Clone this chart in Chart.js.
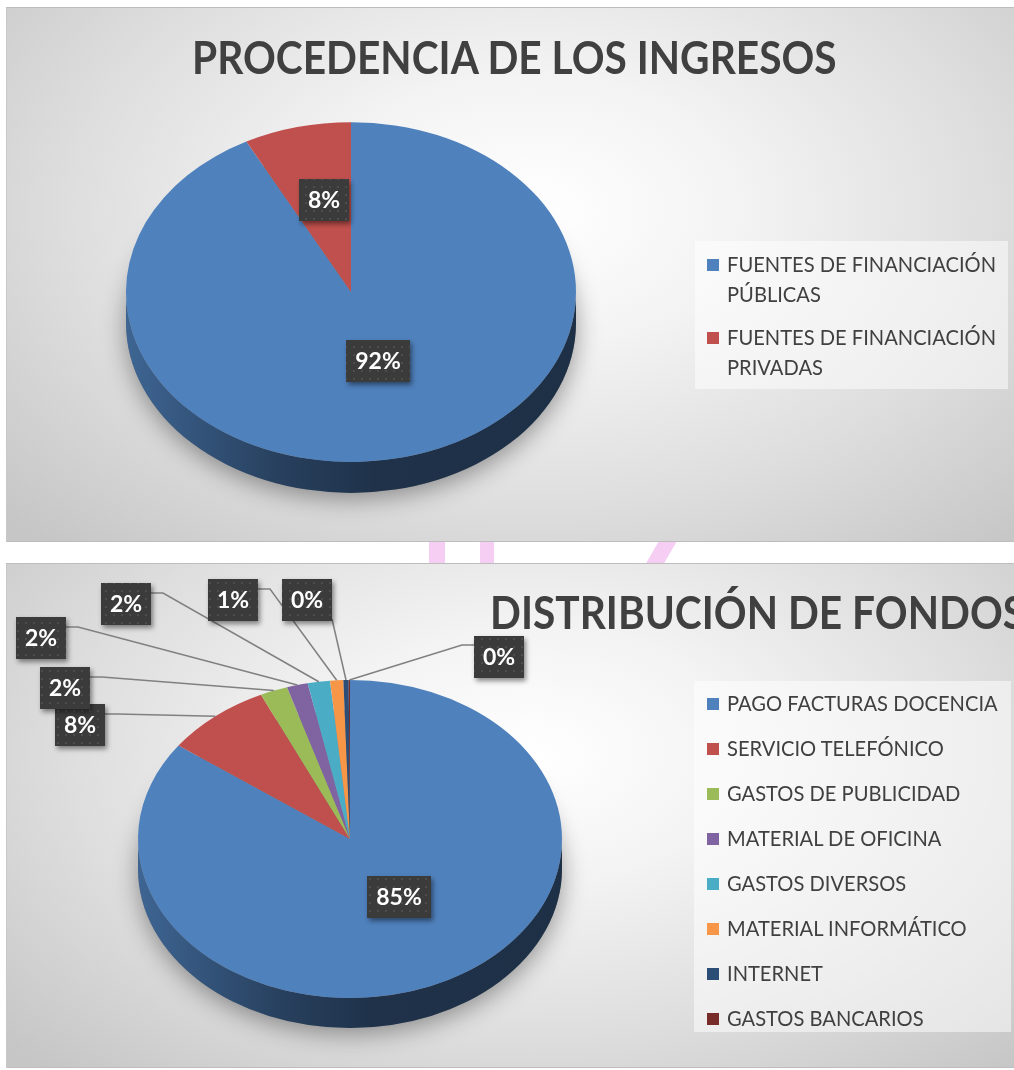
<!DOCTYPE html>
<html>
<head>
<meta charset="utf-8">
<script src="https://cdn.jsdelivr.net/npm/chart.js@4.4.0/dist/chart.umd.min.js"></script>
<style>
  html, body { margin: 0; padding: 0; background: #fff; }
  body { width: 1014px; height: 1070px; overflow: hidden; position: relative; font-family: Lato, "Open Sans", sans-serif; }
  .panel {
    position: absolute; left: 6px; width: 1010px; overflow: hidden;
    background: radial-gradient(ellipse 70% 85% at 52% 38%, #ffffff 0%, #f3f3f3 30%, #dedede 65%, #c6c6c6 100%);
    box-shadow: inset 0 1px 0 #bdbdbd, inset 1px 0 0 #c8c8c8, inset 0 -1px 0 #bdbdbd;
  }
  .panel canvas { position: absolute; left: 0; top: 0; }
  .txt { position: absolute; white-space: nowrap; line-height: 1; color: #404040; transform-origin: 0 0; z-index: 2; font-family: Lato, "Open Sans", sans-serif; }
  .legbox { position: absolute; background: rgba(255,255,255,0.5); z-index: 1; }
  .sq { position: absolute; width: 12px; height: 12px; z-index: 2; }
  .pink { position: absolute; background: #f6cdf3; }
</style>
</head>
<body>
<div class="pink" style="left:429px;top:540px;width:16px;height:26px;"></div>
<div class="pink" style="left:480px;top:540px;width:14px;height:26px;"></div>
<div class="pink" style="left:652px;top:540px;width:18px;height:26px;transform:skewX(-30deg);"></div>

<div class="panel" id="p1" style="top:7px;height:535px;"><canvas id="c1" width="1010" height="535"></canvas></div>
<div class="panel" id="p2" style="top:563px;height:505px;"><canvas id="c2" width="1010" height="505"></canvas></div>

<script>
// ---- data ----
const incomeTitle = 'PROCEDENCIA DE LOS INGRESOS';
const incomeLabels = ['FUENTES DE FINANCIACIÓN PÚBLICAS', 'FUENTES DE FINANCIACIÓN PRIVADAS'];
const incomeValues = [92.3, 7.7];

const fundTitle = 'DISTRIBUCIÓN DE FONDOS';
const fundLabels = ['PAGO FACTURAS DOCENCIA', 'SERVICIO TELEFÓNICO', 'GASTOS DE PUBLICIDAD', 'MATERIAL DE OFICINA',
  'GASTOS DIVERSOS', 'MATERIAL INFORMÁTICO', 'INTERNET', 'GASTOS BANCARIOS'];
const fundValues = [85.0, 8.1, 2.1, 1.6, 1.7, 1.0, 0.4, 0.1];

// ---- styles / layout ----
const palette = ['#4f81bd', '#c0504d', '#9bbb59', '#8064a2', '#4bacc6', '#f79646', '#2c4d75', '#772c2a'];
// callout box centres (panel px) for the labels placed outside the second pie
const fundCallouts = [null, [74, 162], [59, 125], [35, 75], [120, 41], [227, 37], [301, 37], [493, 94]];

const CAP_OFF = 0.17; // cap top offset (em) for line-height 1

function darken(hex, f) {
  const n = parseInt(hex.slice(1), 16);
  const r = (n >> 16) & 255, g = (n >> 8) & 255, b = n & 255;
  return `rgb(${Math.round(r * f)},${Math.round(g * f)},${Math.round(b * f)})`;
}

// dotted dark fill used by the data label boxes
const pc = document.createElement('canvas');
pc.width = pc.height = 8;
const pctx = pc.getContext('2d');
pctx.fillStyle = '#3b3b3b'; pctx.fillRect(0, 0, 8, 8);
pctx.fillStyle = '#4c4c4c'; pctx.fillRect(3, 3, 2, 2);

// squash the pie into an ellipse and add the side wall
const pie3d = {
  id: 'pie3d',
  beforeDatasetsDraw(chart, args, o) {
    const arcs = chart.getDatasetMeta(0).data;
    const { x: cx, y: cy, outerRadius: R } = arcs[0];
    const ry = R * o.tilt, d = o.depth, ctx = chart.ctx;
    const colors = chart.data.datasets[0].backgroundColor;

    ctx.save();
    ctx.shadowColor = 'rgba(0,0,0,0.38)';
    ctx.shadowBlur = 24;
    ctx.shadowOffsetY = 6;
    ctx.fillStyle = '#888';
    ctx.beginPath();
    ctx.ellipse(cx, cy + d, R, ry, 0, 0, Math.PI * 2);
    ctx.fill();
    ctx.restore();

    arcs.forEach((arc, i) => {
      for (const off of [0, Math.PI * 2]) {
        const lo = Math.max(arc.startAngle, off), hi = Math.min(arc.endAngle, off + Math.PI);
        if (hi <= lo) continue;
        const g = ctx.createLinearGradient(cx - R, 0, cx + R, 0);
        g.addColorStop(0, darken(colors[i], 0.78));
        g.addColorStop(0.33, darken(colors[i], 0.5));
        g.addColorStop(0.55, darken(colors[i], 0.39));
        g.addColorStop(1, darken(colors[i], 0.37));
        ctx.beginPath();
        ctx.ellipse(cx, cy, R, ry, 0, lo, hi, false);
        ctx.ellipse(cx, cy + d, R, ry, 0, hi, lo, true);
        ctx.closePath();
        ctx.fillStyle = g;
        ctx.fill();
      }
    });

    ctx.save();
    ctx.translate(cx, cy);
    ctx.scale(1, o.tilt);
    ctx.translate(-cx, -cy);
  },
  afterDatasetsDraw(chart) {
    chart.ctx.restore();
  }
};

// percentage boxes, inside or as callouts with leader lines
const pieLabels = {
  id: 'pieLabels',
  afterDraw(chart, args, o) {
    const arcs = chart.getDatasetMeta(0).data;
    const values = chart.data.datasets[0].data;
    const total = values.reduce((a, b) => a + b, 0);
    const { x: cx, y: cy, outerRadius: R } = arcs[0];
    const k = o.tilt, ctx = chart.ctx;
    const pattern = ctx.createPattern(pc, 'repeat');
    ctx.save();
    ctx.font = 'bold 23px Lato, "Open Sans", sans-serif';
    arcs.forEach((arc, i) => {
      const text = Math.round(values[i] / total * 100) + '%';
      const mid = (arc.startAngle + arc.endAngle) / 2;
      const c = Math.cos(mid), s = Math.sin(mid);
      const w = Math.round(ctx.measureText(text).width + 18), h = 42;
      const place = o.outside ? o.outside[i] : null;
      let bx, by;
      if (place) { bx = place[0]; by = place[1]; }
      else { bx = cx + 0.51 * R * c; by = cy + R * k * (0.488 * s - 0.067); }
      const left = Math.round(bx - w / 2), top = Math.round(by - h / 2);

      if (place) {
        const tx = cx + R * c, ty = cy + R * k * s;
        ctx.strokeStyle = '#808080';
        ctx.lineWidth = 1.5;
        ctx.beginPath();
        if (tx > left - 5 && tx < left + w + 15) {
          ctx.moveTo(left + w, top + h - 2); ctx.lineTo(tx, ty);
        } else if (tx >= left + w) {
          ctx.moveTo(left + w, top + 10); ctx.lineTo(left + w + 12, top + 10); ctx.lineTo(tx, ty);
        } else {
          ctx.moveTo(left, top + 9); ctx.lineTo(left - 12, top + 9); ctx.lineTo(tx, ty);
        }
        ctx.stroke();
      }

      ctx.save();
      ctx.shadowColor = 'rgba(0,0,0,0.45)';
      ctx.shadowBlur = 5;
      ctx.shadowOffsetX = 2;
      ctx.shadowOffsetY = 3;
      ctx.fillStyle = pattern;
      ctx.fillRect(left, top, w, h);
      ctx.restore();

      ctx.fillStyle = '#ffffff';
      ctx.textAlign = 'center';
      ctx.textBaseline = 'middle';
      ctx.fillText(text, left + w / 2, top + h / 2 + 1);
    });
    ctx.restore();
  }
};

function makePie(canvasId, labels, values, geo, outside) {
  const cv = document.getElementById(canvasId);
  const W = cv.width, H = cv.height;
  return new Chart(cv.getContext('2d'), {
    type: 'pie',
    data: {
      labels: labels,
      datasets: [{
        data: values,
        backgroundColor: palette.slice(0, values.length),
        borderWidth: 0,
        hoverOffset: 0,
        offset: 0
      }]
    },
    options: {
      responsive: false,
      animation: false,
      events: [],
      layout: {
        padding: {
          left: geo.cx - geo.R,
          right: W - (geo.cx + geo.R),
          top: geo.cy - geo.R,
          bottom: H - (geo.cy + geo.R)
        }
      },
      plugins: {
        legend: { display: false },
        tooltip: { enabled: false },
        title: { display: false },
        pie3d: { tilt: geo.tilt, depth: geo.depth },
        pieLabels: { tilt: geo.tilt, outside: outside }
      }
    },
    plugins: [pie3d, pieLabels]
  });
}

makePie('c1', incomeLabels, incomeValues, { cx: 345, cy: 285, R: 225, tilt: 0.755, depth: 31 }, null);
makePie('c2', fundLabels, fundValues, { cx: 344, cy: 276, R: 212, tilt: 0.75, depth: 30 }, fundCallouts);

// ---- titles and legends as real text ----
const mctx = document.createElement('canvas').getContext('2d');
function textWidth(t, font) { mctx.font = font; return mctx.measureText(t).width; }

const TITLE_SIZE = 46, LEG_SIZE = 21;
const titleSx = 646 / textWidth(incomeTitle, `bold ${TITLE_SIZE}px Lato`);
const legSx = 269 / textWidth('FUENTES DE FINANCIACIÓN', `${LEG_SIZE}px Lato`);

function addText(panel, text, x, capTop, size, weight, sx) {
  const el = document.createElement('div');
  el.className = 'txt';
  el.textContent = text;
  el.style.left = x + 'px';
  el.style.top = (capTop - CAP_OFF * size) + 'px';
  el.style.fontSize = size + 'px';
  el.style.fontWeight = weight;
  el.style.transform = `scaleX(${sx})`;
  panel.appendChild(el);
}

function wrap(text, maxW) {
  const words = text.split(' ');
  const lines = [];
  let cur = '';
  words.forEach(wd => {
    const t = cur ? cur + ' ' + wd : wd;
    if (cur && textWidth(t, `${LEG_SIZE}px Lato`) * legSx > maxW) { lines.push(cur); cur = wd; }
    else cur = t;
  });
  lines.push(cur);
  return lines;
}

function addLegend(panel, labels, box, firstCap, lineGap, itemGap) {
  const bg = document.createElement('div');
  bg.className = 'legbox';
  Object.assign(bg.style, { left: box[0] + 'px', top: box[1] + 'px', width: box[2] + 'px', height: box[3] + 'px' });
  panel.appendChild(bg);
  let cap = firstCap;
  labels.forEach((lab, i) => {
    const sq = document.createElement('div');
    sq.className = 'sq';
    sq.style.left = '701px';
    sq.style.top = (cap + 1.5) + 'px';
    sq.style.background = palette[i];
    panel.appendChild(sq);
    const lines = wrap(lab, 280);
    lines.forEach((ln, j) => {
      addText(panel, ln, 721, cap, LEG_SIZE, 400, legSx);
      if (j < lines.length - 1) cap += lineGap;
    });
    cap += itemGap;
  });
}

const p1 = document.getElementById('p1');
const p2 = document.getElementById('p2');
addText(p1, incomeTitle, 186, 35, TITLE_SIZE, 700, titleSx);
addText(p2, fundTitle, 484, 34, TITLE_SIZE, 700, titleSx);
addLegend(p1, incomeLabels, [689, 234, 313, 148], 250, 30, 43);
addLegend(p2, fundLabels, [688, 118, 317, 351], 133, 30, 45);
</script>
</body>
</html>
